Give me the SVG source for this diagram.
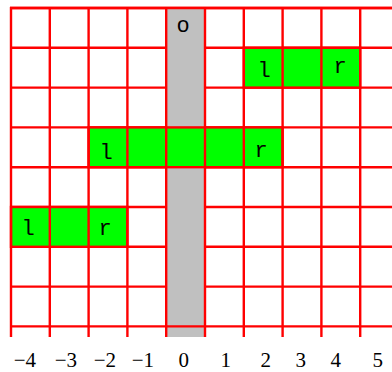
<svg xmlns="http://www.w3.org/2000/svg" width="392" height="372" viewBox="0 0 392 372">
<style>
.h{stroke:#ff0000;stroke-width:2.4}
.v{stroke:#ff0000;stroke-width:2.4}
.g{fill:#00ff00;stroke:#ff0000;stroke-width:2.4}
.lt{font-family:"Liberation Mono",monospace;font-size:22px;fill:#000;text-anchor:middle}
.ax{font-family:"Liberation Serif",serif;font-size:21px;fill:#000;text-anchor:end}
</style>
<rect width="392" height="372" fill="#fff"/>
<g id="grid-rows">
<line class="h" x1="10" y1="8" x2="392" y2="8"/>
<line class="h" x1="10" y1="47.8" x2="392" y2="47.8"/>
<line class="h" x1="10" y1="87.6" x2="392" y2="87.6"/>
<line class="h" x1="10" y1="127.4" x2="392" y2="127.4"/>
<line class="h" x1="10" y1="167.2" x2="392" y2="167.2"/>
<line class="h" x1="10" y1="207" x2="392" y2="207"/>
<line class="h" x1="10" y1="246.8" x2="392" y2="246.8"/>
<line class="h" x1="10" y1="286.6" x2="392" y2="286.6"/>
</g>
<g id="origin-column">
<rect x="166.2" y="9" width="38.8" height="328" fill="#c0c0c0"/>
</g>
<line class="h" x1="10" y1="8" x2="392" y2="8"/>
<line class="h" x1="10" y1="326.4" x2="392" y2="326.4"/>
<g id="block-top">
<rect class="g" x="243.8" y="47.8" width="116.4" height="39.8"/>
</g>
<g id="block-mid">
<rect class="g" x="88.6" y="127.4" width="194" height="39.8"/>
</g>
<g id="block-low">
<rect class="g" x="11" y="207" width="116.4" height="39.8"/>
</g>
<g id="grid-cols">
<line class="v" x1="11" y1="7" x2="11" y2="337"/>
<line class="v" x1="49.8" y1="7" x2="49.8" y2="337"/>
<line class="v" x1="88.6" y1="7" x2="88.6" y2="337"/>
<line class="v" x1="127.4" y1="7" x2="127.4" y2="337"/>
<line class="v" x1="166.2" y1="7" x2="166.2" y2="337"/>
<line class="v" x1="205" y1="7" x2="205" y2="337"/>
<line class="v" x1="243.8" y1="7" x2="243.8" y2="337"/>
<line class="v" x1="282.6" y1="7" x2="282.6" y2="337"/>
<line class="v" x1="321.4" y1="7" x2="321.4" y2="337"/>
<line class="v" x1="360.2" y1="7" x2="360.2" y2="337"/>
</g>
<g id="cell-labels">
<text class="lt" x="183" y="32" font-size="20">o</text>
<text class="lt" x="264" y="77">l</text>
<text class="lt" x="340" y="73">r</text>
<text class="lt" x="106" y="159">l</text>
<text class="lt" x="261" y="157">r</text>
<text class="lt" x="28" y="235">l</text>
<text class="lt" x="105" y="235">r</text>
</g>
<g id="axis-labels">
<text class="ax" x="36" y="367">−4</text>
<text class="ax" x="77" y="367">−3</text>
<text class="ax" x="116" y="367">−2</text>
<text class="ax" x="154" y="367">−1</text>
<text class="ax" x="189" y="367">0</text>
<text class="ax" x="231" y="367">1</text>
<text class="ax" x="271" y="367">2</text>
<text class="ax" x="306" y="367">3</text>
<text class="ax" x="341" y="367">4</text>
<text class="ax" x="383" y="367">5</text>
</g>
</svg>
